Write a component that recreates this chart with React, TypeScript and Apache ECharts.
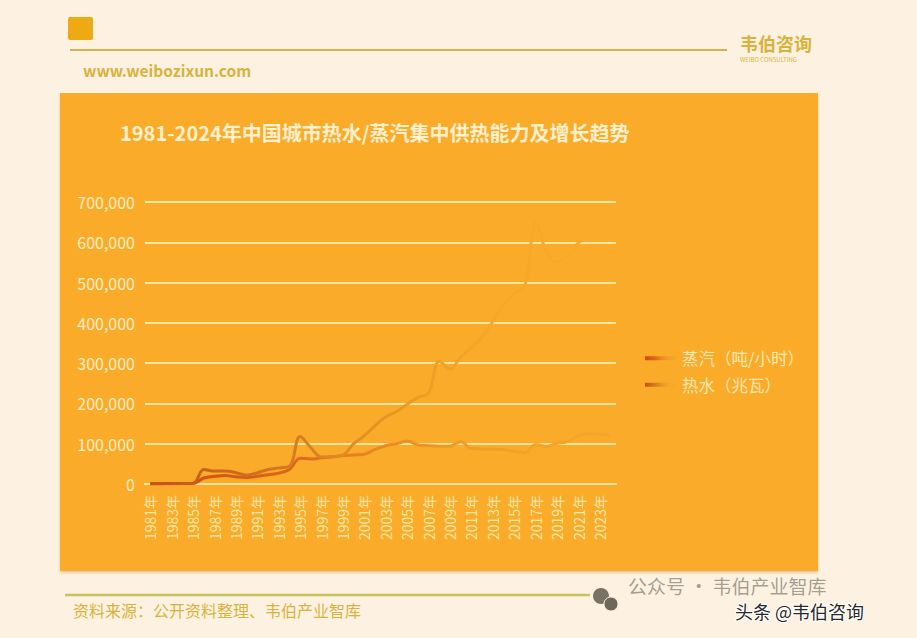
import React, { useEffect, useRef } from "react";
import * as echarts from "echarts";

const years: string[] = [
  "1981年","1982年","1983年","1984年","1985年","1986年","1987年","1988年","1989年","1990年",
  "1991年","1992年","1993年","1994年","1995年","1996年","1997年","1998年","1999年","2000年",
  "2001年","2002年","2003年","2004年","2005年","2006年","2007年","2008年","2009年","2010年",
  "2011年","2012年","2013年","2014年","2015年","2016年","2017年","2018年","2019年","2020年",
  "2021年","2022年","2023年","2024年",
];

const steam: number[] = [
  754, 900, 1000, 1200, 1500, 15000, 19000, 21000, 18000, 16000,
  19000, 23000, 27000, 36000, 64000, 62000, 65000, 67000, 71000, 72000,
  74000, 86000, 95000, 100000, 107000, 97000, 95000, 94000, 94000, 105000,
  88000, 87000, 87000, 85000, 81000, 78000, 98000, 93000, 101000, 105000,
  120000, 124000, 123000, 121000,
];

const hotWater: number[] = [
  440, 600, 800, 1000, 1500, 36000, 32000, 32000, 28000, 22000,
  28000, 36000, 40000, 44000, 118000, 90000, 67000, 68000, 72000, 100000,
  120000, 145000, 167000, 180000, 198000, 215000, 226000, 305000, 286000, 315000,
  339000, 365000, 404000, 447000, 473000, 493000, 648000, 578000, 551000, 566000,
  599000, 612000, 636000, 650000,
];

const yTicks = { min: 0, max: 700000, interval: 100000 };

const seriesNames = ["蒸汽（吨/小时）", "热水（兆瓦）"];

const title = "1981-2024年中国城市热水/蒸汽集中供热能力及增长趋势";
const sourceText = "资料来源：公开资料整理、韦伯产业智库";

export default function App() {
  const ref = useRef<HTMLDivElement>(null);
  useEffect(() => {
    document.body.style.margin = "0";
    const chart = echarts.init(ref.current!, null, { renderer: "svg" });
    const font = '"Noto Sans CJK SC", "Noto Sans", sans-serif';
    const steamGrad = new echarts.graphic.LinearGradient(0, 0, 1, 0, [
      { offset: 0, color: "#D2470F" },
      { offset: 0.3, color: "#DE6619" },
      { offset: 0.5, color: "#EA8A22" },
      { offset: 0.7, color: "#F19E27" },
      { offset: 1, color: "#F6A72B" },
    ]);
    const hotGrad = new echarts.graphic.LinearGradient(0, 0, 1, 0, [
      { offset: 0, color: "#C4521A" },
      { offset: 0.25, color: "#D27320" },
      { offset: 0.45, color: "#E18F22" },
      { offset: 0.6, color: "#EC9F25" },
      { offset: 0.75, color: "#F5A829" },
      { offset: 1, color: "#F9AB2A" },
    ]);
    chart.setOption({
      animation: false,
      backgroundColor: "#FDF2E1",
      textStyle: { fontFamily: font },
      graphic: [
        { type: "rect", shape: { x: 68, y: 17, width: 25, height: 23, r: 2 }, style: { fill: "#EDAA12" } },
        { type: "line", shape: { x1: 70, y1: 50, x2: 727, y2: 50 }, style: { stroke: "#CDB553", lineWidth: 2 } },
        { type: "text", x: 740, y: 34, style: { text: "韦伯咨询", fill: "#D9B23C", font: `bold 18px ${font}` } },
        { type: "text", x: 740, y: 56, style: { text: "WEIBO CONSULTING", fill: "#D9B23C", font: `6px ${font}` } },
        { type: "text", x: 83, y: 62, style: { text: "www.weibozixun.com", fill: "#D6B23E", font: `bold 15.5px ${font}` } },
        {
          type: "rect", z: -10,
          shape: { x: 60, y: 93, width: 758, height: 478 },
          style: { fill: "#FBAB2A", shadowBlur: 3, shadowColor: "rgba(180,120,20,0.35)", shadowOffsetY: 2 },
        },
        { type: "text", x: 120, y: 122, style: { text: title, fill: "#FFF0CE", font: `bold 20px ${font}` } },
        { type: "line", shape: { x1: 65, y1: 595, x2: 590, y2: 595 }, style: { stroke: "#C9C25E", lineWidth: 2.5 } },
        { type: "text", x: 73, y: 602, style: { text: sourceText, fill: "#D8B23E", font: `16px ${font}` } },
        { type: "circle", shape: { cx: 601, cy: 596, r: 8 }, style: { fill: "#7A7265" } },
        { type: "circle", shape: { cx: 611, cy: 604, r: 7 }, style: { fill: "#6E675C", stroke: "#FDF2E1", lineWidth: 1 } },
        { type: "text", x: 628, y: 576, style: { text: "公众号 · 韦伯产业智库", fill: "rgba(90,85,75,0.55)", font: `19px ${font}` } },
        { type: "text", x: 735, y: 602, style: { text: "头条 @韦伯咨询", fill: "#2A2A2A", font: `18px ${font}`, stroke: "#FFFFFF", lineWidth: 2 } },
      ],
      grid: { left: 145, right: 301, top: 202, bottom: 154 },
      legend: {
        orient: "vertical",
        left: 640,
        top: 345,
        itemWidth: 32,
        itemHeight: 4,
        itemGap: 10,
        icon: "rect",
        textStyle: { color: "#FFE9B0", fontSize: 16.5, fontFamily: font },
        data: seriesNames,
      },
      xAxis: {
        type: "category",
        data: years,
        boundaryGap: true,
        axisLine: { show: true, lineStyle: { color: "#FFE7A0", width: 2 } },
        axisTick: { show: false },
        axisLabel: {
          interval: 1,
          rotate: 90,
          color: "#FFE9A6",
          fontSize: 14,
          margin: 11,
          fontFamily: font,
        },
      },
      yAxis: {
        type: "value",
        min: yTicks.min,
        max: yTicks.max,
        interval: yTicks.interval,
        axisLine: { show: false },
        axisTick: { show: false },
        splitLine: { lineStyle: { color: "#FFE7A0", width: 2 } },
        axisLabel: {
          color: "#FFEFC6",
          fontSize: 16,
          margin: 10,
          fontFamily: font,
          formatter: (v: number) => v.toLocaleString("en-US"),
        },
      },
      series: [
        {
          name: seriesNames[0],
          type: "line",
          data: steam,
          smooth: 0.4,
          showSymbol: false,
          lineStyle: { width: 3, color: steamGrad },
          itemStyle: { color: steamGrad },
        },
        {
          name: seriesNames[1],
          type: "line",
          data: hotWater,
          smooth: 0.4,
          showSymbol: false,
          lineStyle: { width: 3, color: hotGrad },
          itemStyle: { color: hotGrad },
        },
      ],
    });
    return () => chart.dispose();
  }, []);
  return <div ref={ref} style={{ width: 917, height: 638 }} />;
}
